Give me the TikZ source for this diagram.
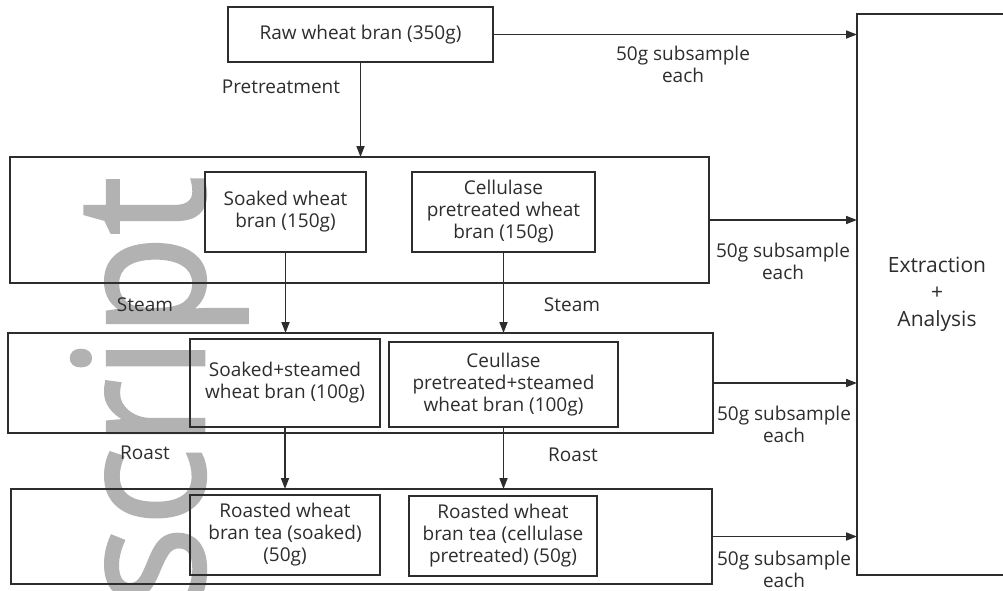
\documentclass[tikz,border=0pt]{standalone}
\usepackage{fontspec}
\setmainfont{Open Sans}
\newfontfamily\wmfont[FakeStretch=0.92,FakeBold=1.5]{Open Sans}
\usetikzlibrary{arrows.meta}
\definecolor{ink}{RGB}{45,45,45}
\definecolor{wm}{RGB}{178,178,178}
\tikzset{
  box/.style={draw=ink, line width=1.7pt, inner sep=0pt, outer sep=0pt, align=center, text=ink, font=\fontsize{19}{22}\selectfont},
  arr/.style={draw=ink, line width=1.7pt, -{Triangle[length=11pt,width=8pt]}},
  lbl/.style={text=ink, align=center, inner sep=0pt, font=\fontsize{19}{22}\selectfont}
}
\begin{document}
\begin{tikzpicture}[x=1pt,y=-1pt]
\useasboundingbox (0,0) rectangle (1003,590);
\begin{scope}
\clip (0,0) rectangle (1003,590);
% watermark
\node[text=wm, rotate=90, anchor=base east, inner sep=0pt, font=\wmfont\fontsize{181}{181}\selectfont] (wmark) at (204,176) {script};
% boxes
\node[box, minimum width=265pt, minimum height=55pt] (raw) at (360.5,34.5) {Raw wheat bran (350g)};
\node[box, minimum width=160pt, minimum height=561pt, font=\fontsize{21}{27}\selectfont] (ext) at (937,294.5) {Extraction\\+\\Analysis};
\node[box, minimum width=699pt, minimum height=126pt] (outer1) at (359.5,220) {};
\node[box, minimum width=161pt, minimum height=80pt] (soak1) at (285.5,212) {Soaked wheat\\bran (150g)};
\node[box, minimum width=183pt, minimum height=80pt] (cell1) at (503.5,212) {Cellulase\\pretreated wheat\\bran (150g)};
\node[box, minimum width=705pt, minimum height=100pt] (outer2) at (360.5,383) {};
\node[box, minimum width=190pt, minimum height=88pt] (soak2) at (285,383) {Soaked+steamed\\wheat bran (100g)};
\node[box, minimum width=229pt, minimum height=85pt] (cell2) at (503.5,384.5) {Ceullase\\pretreated+steamed\\wheat bran (100g)};
\node[box, minimum width=701pt, minimum height=95pt] (outer3) at (361.5,536.5) {};
\node[box, minimum width=190pt, minimum height=80pt] (soak3) at (285,535) {Roasted wheat\\bran tea (soaked)\\(50g)};
\node[box, minimum width=188pt, minimum height=80pt] (cell3) at (503,536) {Roasted wheat\\bran tea (cellulase\\pretreated) (50g)};
% arrows
\draw[arr] (raw.south) -- (raw.south |- outer1.north);
\draw[arr] (raw.east) -- (raw.east -| ext.west);
\draw[arr] (outer1.east) -- (outer1.east -| ext.west);
\draw[arr] (outer2.east) -- (outer2.east -| ext.west);
\draw[arr] (outer3.east) -- (outer3.east -| ext.west);
\draw[arr] (soak1.south) -- (soak1.south |- outer2.north);
\draw[arr] (cell1.south) -- (cell1.south |- outer2.north);
\draw[arr] (soak2.south) -- (soak2.south |- outer3.north);
\draw[arr] (cell2.south) -- (cell2.south |- outer3.north);
% labels
\node[lbl] (lpre) at (281,87) {Pretreatment};
\node[lbl] (ls0) at (683,64) {50g subsample\\each};
\node[lbl] (ls1) at (783,261) {50g subsample\\each};
\node[lbl] (ls2) at (784,424) {50g subsample\\each};
\node[lbl] (ls3) at (784,569) {50g subsample\\each};
\node[lbl] (st1) at (145,305) {Steam};
\node[lbl] (st2) at (572,305) {Steam};
\node[lbl] (ro1) at (145,453) {Roast};
\node[lbl] (ro2) at (573,455) {Roast};
\end{scope}
\end{tikzpicture}
\end{document}
